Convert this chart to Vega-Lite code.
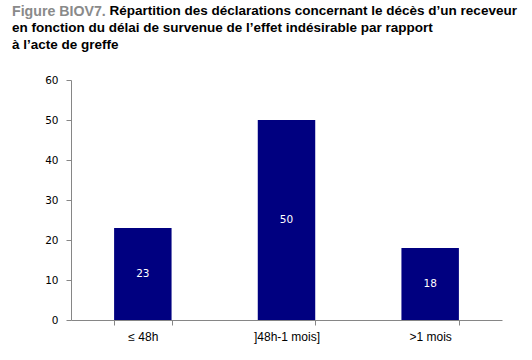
{
  "$schema": "https://vega.github.io/schema/vega-lite/v6.json",
  "width": 431,
  "height": 240,
  "autosize": "none",
  "padding": {"left": 71, "top": 80, "right": 30, "bottom": 40},
  "background": "white",
  "title": {
    "text": "Figure BIOV7.",
    "subtitle": [
      "\u200b\u00a0\u00a0\u00a0\u00a0\u00a0\u00a0\u00a0\u00a0\u00a0\u00a0\u00a0\u00a0\u00a0\u00a0\u00a0\u00a0\u00a0\u00a0\u00a0\u00a0\u00a0\u00a0\u00a0\u00a0\u00a0\u00a0Répartition des déclarations concernant le décès d’un receveur",
      "en fonction du délai de survenue de l’effet indésirable par rapport",
      "à l’acte de greffe"
    ],
    "anchor": "start",
    "frame": "group",
    "dx": -59,
    "offset": 23,
    "font": "Liberation Sans",
    "fontSize": 14.2,
    "fontWeight": "bold",
    "color": "#8a8a8a",
    "subtitleFont": "Liberation Sans",
    "subtitleFontSize": 13.5,
    "subtitleFontWeight": "bold",
    "subtitleColor": "#000000",
    "subtitleLineHeight": 17,
    "subtitlePadding": -15
  },
  "data": {
    "values": [
      {"delai": "≤ 48h", "value": 23},
      {"delai": "]48h-1 mois]", "value": 50},
      {"delai": ">1 mois", "value": 18}
    ]
  },
  "encoding": {
    "x": {
      "field": "delai",
      "type": "nominal",
      "sort": null,
      "scale": {"paddingInner": 0.6, "paddingOuter": 0.3},
      "axis": {
        "title": null,
        "labelAngle": 0,
        "tickBand": "extent",
        "domainColor": "#868686",
        "tickColor": "#868686",
        "tickSize": 5,
        "labelPadding": 6,
        "labelFont": "Liberation Sans",
        "labelFontSize": 12,
        "labelColor": "#000000",
        "grid": false
      }
    }
  },
  "layer": [
    {
      "mark": {"type": "bar", "color": "#000080"},
      "encoding": {
        "y": {
          "field": "value",
          "type": "quantitative",
          "scale": {"domain": [0, 60]},
          "axis": {
            "title": null,
            "values": [0, 10, 20, 30, 40, 50, 60],
            "grid": false,
            "domainColor": "#868686",
            "tickColor": "#868686",
            "tickSize": 5,
            "labelPadding": 8,
            "labelFont": "DejaVu Sans",
            "labelFontSize": 10.5,
            "labelColor": "#000000"
          }
        }
      }
    },
    {
      "mark": {
        "type": "text",
        "color": "#ffffff",
        "font": "DejaVu Sans",
        "fontSize": 10.5,
        "baseline": "middle",
        "align": "center"
      },
      "encoding": {
        "text": {"field": "value", "type": "quantitative"},
        "y": {
          "field": "value",
          "type": "quantitative",
          "scale": {"domain": [0, 120]},
          "axis": null
        }
      }
    }
  ],
  "resolve": {"scale": {"y": "independent"}},
  "config": {"view": {"stroke": null}}
}
